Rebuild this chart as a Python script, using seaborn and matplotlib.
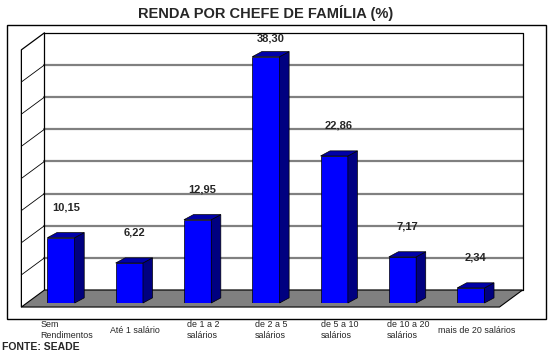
import numpy as np
import matplotlib
matplotlib.use("Agg")
import matplotlib.pyplot as plt
from matplotlib.patches import Rectangle
import seaborn as sns

categories = ["Sem\nRendimentos", "Até 1 salário", "de 1 a 2\nsalários", "de 2 a 5\nsalários",
              "de 5 a 10\nsalários", "de 10 a 20\nsalários", "mais de 20 salários"]
values = [10.15, 6.22, 12.95, 38.30, 22.86, 7.17, 2.34]
grid_ticks = [5, 10, 15, 20, 25, 30, 35]
y_max = 40

sns.set_style("white")
plt.rcParams["font.family"] = ["Liberation Sans", "DejaVu Sans"]

# fake 3d: offsets in data units
DX, DY = 0.258, 2.02      # back wall relative to bar front plane
FRONT = -0.31             # floor front edge (fraction of DX/DY)
BDX, BDY = 0.14, 0.8      # bar depth
n = len(values)
x0, x1 = -0.5, n - 0.5

fig = plt.figure(figsize=(5.5, 3.54), dpi=100)
ax = fig.add_axes([26.85 / 550, 51 / 354, 478.1 / 550, 257.2 / 354])

# outer frame
fig.patches.append(Rectangle((7 / 550, 35 / 354), 539 / 550, 294 / 354, transform=fig.transFigure,
                             fill=False, ec="black", lw=1))

# back wall grid
for v in grid_ticks:
    ax.plot([x0 + DX, x1 + DX], [v + DY, v + DY], color="#808080", lw=1.6, zorder=1, clip_on=False)
    ax.plot([x0 + DX, x0 + FRONT * DX], [v + DY, v + FRONT * DY], color="black", lw=0.6, zorder=1,
            clip_on=False)
ax.plot([x0 + DX, x1 + DX, x1 + DX, x0 + DX, x0 + DX], [DY, DY, y_max + DY, y_max + DY, DY],
        color="black", lw=0.9, zorder=1, clip_on=False)
ax.plot([x0 + DX, x0 + FRONT * DX, x0 + FRONT * DX], [y_max + DY, y_max + FRONT * DY, FRONT * DY],
        color="black", lw=0.9, zorder=1, clip_on=False)

# floor
ax.fill([x0 + DX, x1 + DX, x1 + FRONT * DX, x0 + FRONT * DX],
        [DY, DY, FRONT * DY, FRONT * DY], facecolor="#808080", edgecolor="black", lw=0.8,
        zorder=1.5, clip_on=False)

# bars (front faces)
sns.barplot(x=list(range(n)), y=values, color="#0000ff", saturation=1, width=0.4,
            edgecolor="black", linewidth=0.5, ax=ax, zorder=3)
w = 0.2
for i, v in enumerate(values):
    ax.fill([i + w, i + w + BDX, i + w + BDX, i + w], [0, BDY, v + BDY, v],
            facecolor="#000080", edgecolor="black", lw=0.5, zorder=3, clip_on=False)
    ax.fill([i - w, i + w, i + w + BDX, i - w + BDX], [v, v, v + BDY, v + BDY],
            facecolor="#0000a8", edgecolor="black", lw=0.5, zorder=3, clip_on=False)
    # keep the label inside the back wall
    ly = min(v + 4.7, y_max + 1.2)
    ax.text(i + BDX / 2, ly, f"{v:.2f}".replace(".", ","), ha="center", va="center",
            fontsize=8, fontweight="bold", clip_on=False, zorder=4)

ax.set_xlim(x0, x1)
ax.set_ylim(0, y_max)
ax.set_xticks(np.arange(n) + 0.08, categories)
ax.set_yticks([])
ax.set_xlabel("")
ax.tick_params(axis="x", length=0, pad=19.5, labelsize=6.4)
for t in ax.get_xticklabels():
    t.set_va("center")
    t.set_multialignment("left")
    t.set_linespacing(1.25)
for s in ax.spines.values():
    s.set_visible(False)
ax.patch.set_alpha(0)

fig.text(266 / 550, 1 - 13 / 354, "RENDA POR CHEFE DE FAMÍLIA (%)", ha="center", va="center",
         fontsize=10.5, fontweight="bold")
fig.text(2 / 550, 1 - 347 / 354, "FONTE: SEADE", ha="left", va="center", fontsize=7.5,
         fontweight="bold")

fig.savefig("out.png", dpi=100)
